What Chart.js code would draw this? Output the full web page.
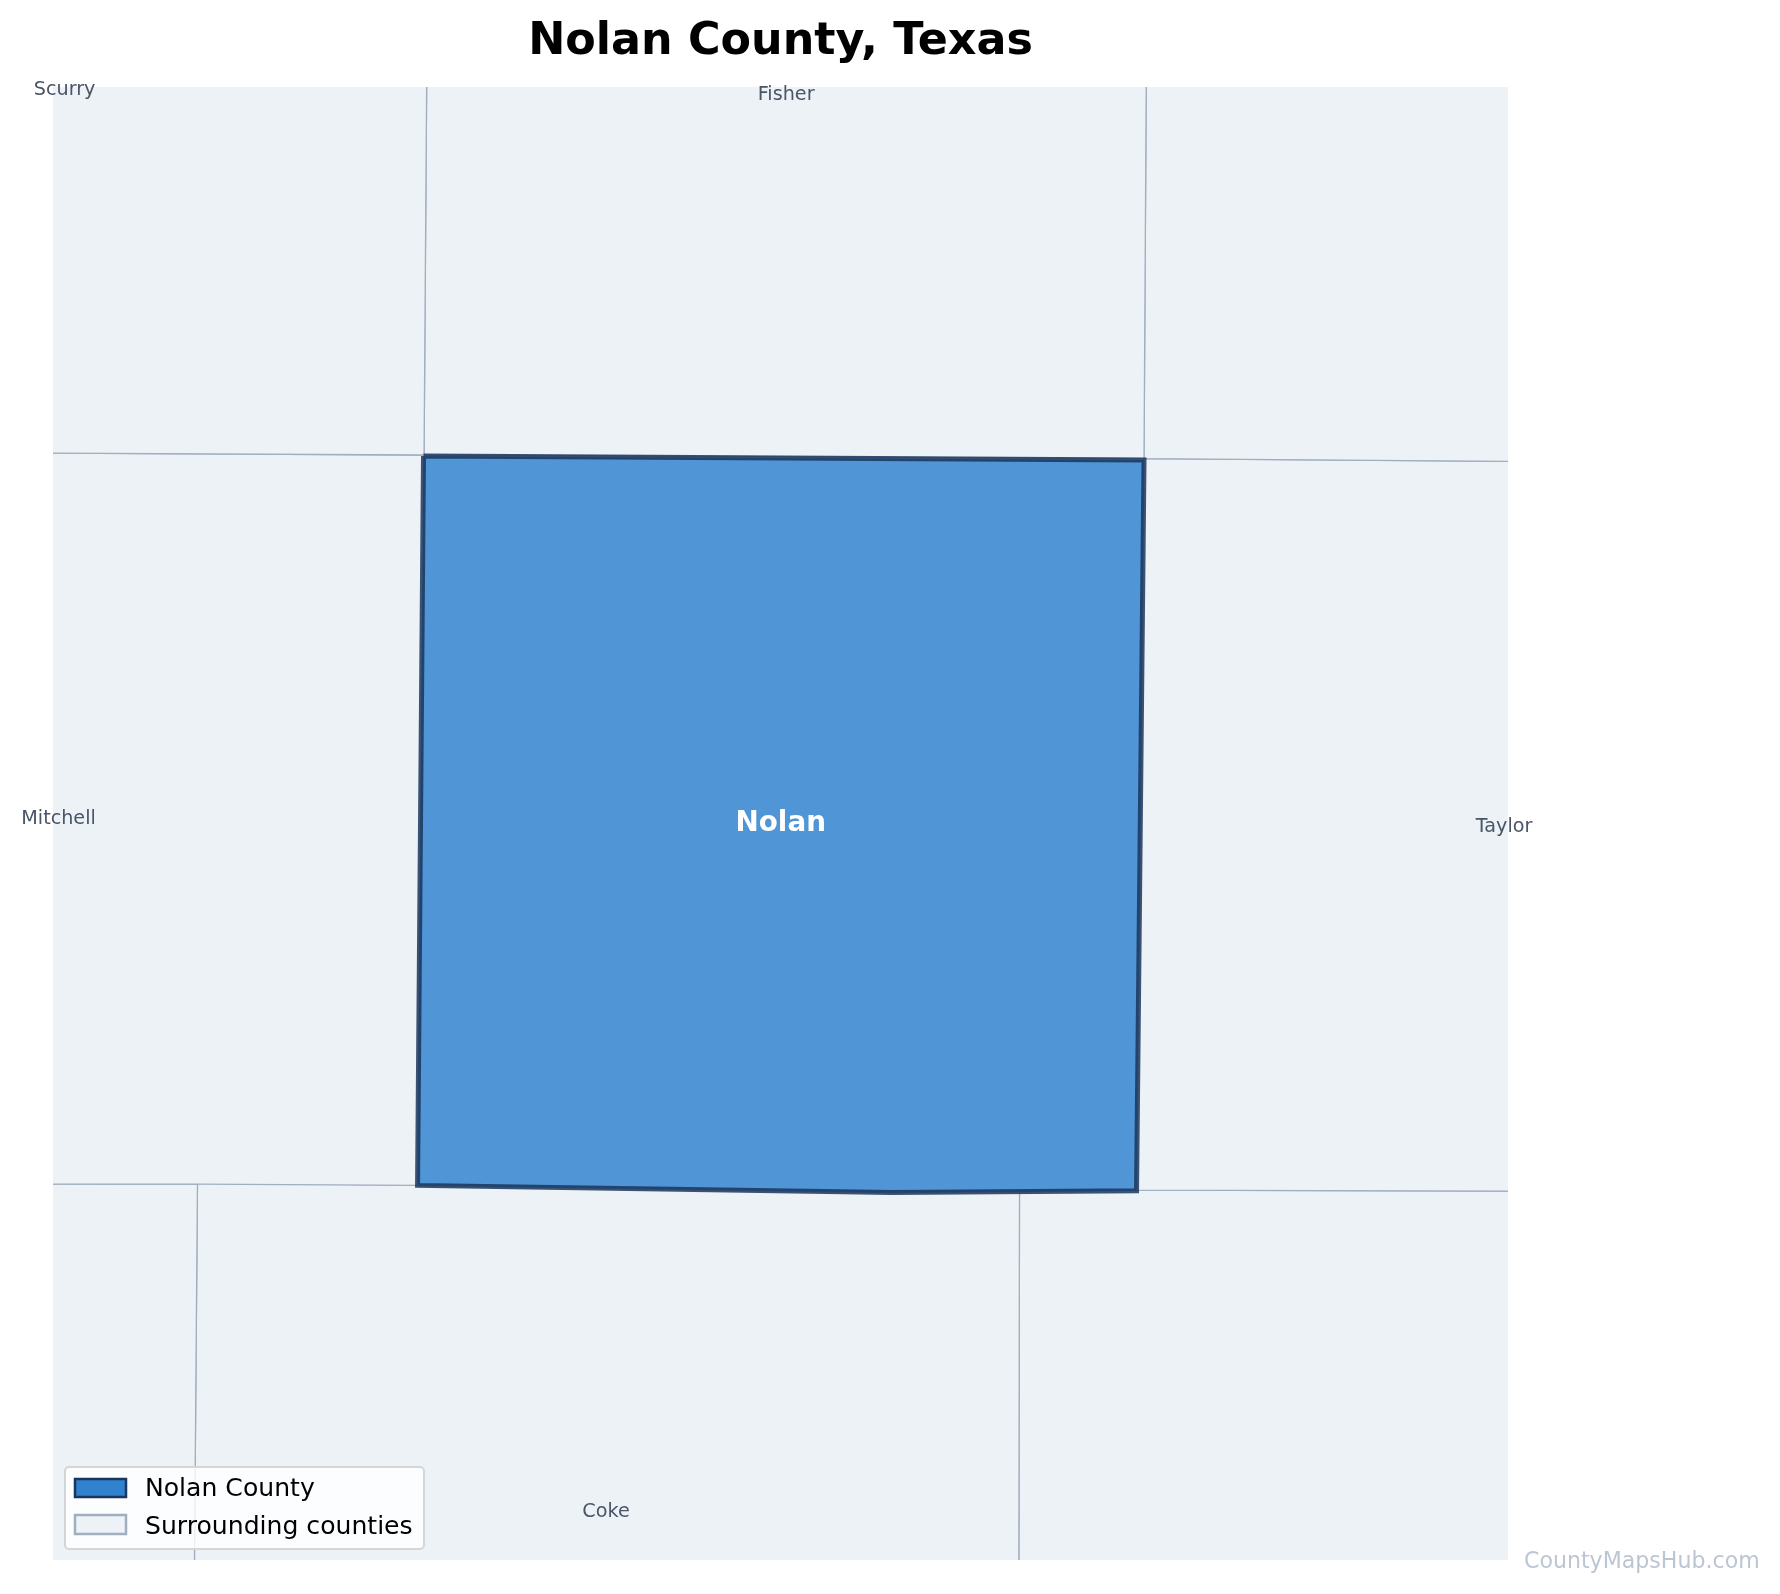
<!DOCTYPE html>
<html>
<head>
<meta charset="utf-8">
<style>
  html, body { margin: 0; padding: 0; background: #fff; }
  #wrap { width: 1780px; height: 1594px; }
</style>
<script src="https://cdn.jsdelivr.net/npm/chart.js@4"></script>
</head>
<body>
<div id="wrap"><canvas id="myChart" width="1780" height="1594"></canvas></div>
<script>
// county outlines, longitude / latitude
const nolanLon = [-100.6650, -100.1448, -100.1502, -100.3270, -100.6693, -100.6650];
const nolanLat = [32.5160, 32.5135, 32.0708, 32.0697, 32.0740, 32.5160];
const scurryLon = [-100.9563, -100.6625, -100.6646, -100.9563, -100.9563];
const scurryLat = [32.7681, 32.7681, 32.5166, 32.5178, 32.7681];
const fisherLon = [-100.6625, -100.1430, -100.1448, -100.6646, -100.6625];
const fisherLat = [32.7681, 32.7681, 32.5144, 32.5166, 32.7681];
const jonesLon = [-100.1430, -99.8589, -99.8589, -100.1448, -100.1430];
const jonesLat = [32.7681, 32.7681, 32.5126, 32.5144, 32.7681];
const mitchellLon = [-100.9563, -100.6646, -100.6693, -100.8282, -100.9563, -100.9563];
const mitchellLat = [32.5178, 32.5166, 32.0740, 32.0748, 32.0747, 32.5178];
const taylorLon = [-100.1448, -99.8589, -99.8589, -100.1502, -100.1448];
const taylorLat = [32.5144, 32.5126, 32.0705, 32.0711, 32.5144];
const sterlingLon = [-100.9563, -100.8282, -100.8306, -100.9563, -100.9563];
const sterlingLat = [32.0747, 32.0748, 31.8226, 31.8226, 32.0747];
const cokeLon = [-100.8282, -100.6693, -100.3270, -100.2347, -100.2352, -100.8306, -100.8282];
const cokeLat = [32.0757, 32.0740, 32.0697, 32.0702, 31.8226, 31.8226, 32.0757];
const runnelsLon = [-100.2347, -100.1502, -99.8589, -99.8589, -100.2352, -100.2347];
const runnelsLat = [32.0702, 32.0711, 32.0705, 31.8226, 31.8226, 32.0702];

const titleText = 'Nolan County, Texas';
const legendLabels = ['Nolan County', 'Surrounding counties'];
const watermark = 'CountyMapsHub.com';

const labelNames = ['Scurry', 'Fisher', 'Mitchell', 'Taylor', 'Coke'];
const labelLon = [-100.9241, -100.4032, -100.9285, -99.8848, -100.5332];
const labelLat = [32.7377, 32.7350, 32.2960, 32.2911, 31.8760];

const surroundFill = '#edf2f7';
const surroundLine = '#a0aec0';

function pts(lons, lats) {
  return lons.map((x, i) => ({ x: x, y: lats[i] }));
}

function county(lons, lats) {
  return {
    data: pts(lons, lats),
    showLine: true,
    fill: 'shape',
    backgroundColor: surroundFill,
    borderColor: surroundLine,
    borderWidth: 1.3,
    pointRadius: 0,
    tension: 0,
  };
}

const mapText = {
  id: 'mapText',
  afterDatasetsDraw(chart) {
    const c = chart.ctx;
    const sx = chart.scales.x;
    const sy = chart.scales.y;
    c.save();
    c.textAlign = 'center';
    c.textBaseline = 'middle';

    // neighbour names
    c.font = '19.2px "DejaVu Sans"';
    c.fillStyle = '#4a5568';
    labelNames.forEach((name, i) => {
      c.fillText(name, sx.getPixelForValue(labelLon[i]), sy.getPixelForValue(labelLat[i]));
    });

    // county name
    c.font = 'bold 27.8px "DejaVu Sans"';
    c.fillStyle = '#ffffff';
    c.fillText('Nolan', sx.getPixelForValue(-100.4071), sy.getPixelForValue(32.2930));

    // legend
    const left = 65, top = 1467, w = 359, h = 82;
    c.beginPath();
    c.roundRect(left, top, w, h, 4);
    c.fillStyle = 'rgba(255,255,255,0.8)';
    c.fill();
    c.lineWidth = 2;
    c.strokeStyle = '#d5d5d5';
    c.stroke();

    c.lineWidth = 2.5;
    c.fillStyle = '#3182ce';
    c.strokeStyle = '#1a365d';
    c.fillRect(75, 1479, 51, 18);
    c.strokeRect(75, 1479, 51, 18);
    c.lineWidth = 2.5;
    c.fillStyle = surroundFill;
    c.strokeStyle = surroundLine;
    c.fillRect(75, 1515, 51, 19);
    c.strokeRect(75, 1515, 51, 19);

    c.textAlign = 'left';
    c.font = '25.1px "DejaVu Sans"';
    c.fillStyle = '#000000';
    c.fillText(legendLabels[0], 145, 1489);
    c.fillText(legendLabels[1], 145, 1527);

    // watermark
    c.font = '22.1px "DejaVu Sans"';
    c.fillStyle = 'rgba(160,174,192,0.7)';
    c.fillText(watermark, 1524, 1562);
    c.restore();
  }
};

const ctx = document.querySelector('#myChart').getContext('2d');

const myChart = new Chart(ctx, {
  type: 'scatter',
  data: {
    datasets: [
      {
        data: pts(nolanLon, nolanLat),
        showLine: true,
        fill: 'shape',
        backgroundColor: 'rgba(49,130,206,0.85)',
        borderColor: 'rgba(26,54,93,0.85)',
        borderWidth: 5,
        borderJoinStyle: 'miter',
        pointRadius: 0,
        tension: 0,
      },
      county(scurryLon, scurryLat),
      county(fisherLon, fisherLat),
      county(jonesLon, jonesLat),
      county(mitchellLon, mitchellLat),
      county(taylorLon, taylorLat),
      county(sterlingLon, sterlingLat),
      county(cokeLon, cokeLat),
      county(runnelsLon, runnelsLat),
    ],
  },
  options: {
    responsive: false,
    animation: false,
    devicePixelRatio: 1,
    layout: { padding: { left: 53, right: 272, top: 0, bottom: 34 } },
    plugins: {
      legend: { display: false },
      tooltip: { enabled: false },
      title: {
        display: true,
        text: titleText,
        fullSize: false,
        color: '#000000',
        font: { family: '"DejaVu Sans"', size: 44.4, weight: 'bold', lineHeight: 1.2 },
        padding: { top: 16, bottom: 17.7 },
      },
    },
    scales: {
      x: { type: 'linear', display: false, min: -100.9325, max: -99.882 },
      y: { type: 'linear', display: false, min: 31.847, max: 32.7396 },
    },
  },
  plugins: [mapText],
});
</script>
</body>
</html>
